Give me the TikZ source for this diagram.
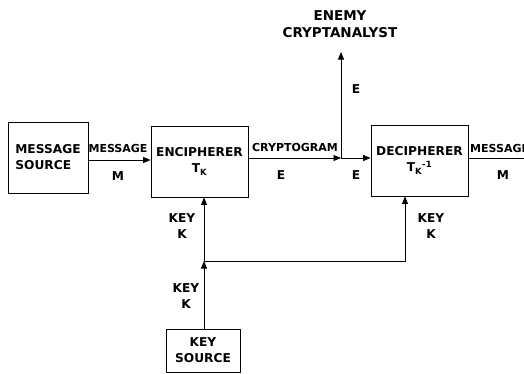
\documentclass[tikz,border=0pt]{standalone}
\usepackage{fontspec}
\setmainfont{DejaVu Sans}
\usetikzlibrary{arrows.meta}
\begin{document}
\begin{tikzpicture}[x=1pt,y=-1pt,
  every node/.style={font=\fontsize{12.2}{16}\selectfont\bfseries, inner sep=0pt},
  blk/.style={draw, line width=0.9pt, minimum height=71pt},
  small/.style={font=\fontsize{11}{15}\selectfont\bfseries},
  lbl/.style={align=center},
  conn/.style={line width=0.8pt},
  arr/.style={conn, -{Triangle[length=7.5pt,width=6pt]}}]
\useasboundingbox (0,0) rectangle (524,373);
\clip (0,0) rectangle (524,373);
% blocks
\node[blk, minimum width=80pt, align=left] (msrc) at (48,157.5) {MESSAGE\\SOURCE};
\node[blk, minimum width=97pt, align=center] (enc) at (199.5,161.5) {ENCIPHERER\\T\textsubscript{K}};
\node[blk, minimum width=97pt, align=center] (dec) at (419.5,160.5) {DECIPHERER\\T\textsubscript{K}\textsuperscript{-1}};
\node[draw, line width=0.9pt, minimum width=74pt, minimum height=43pt, align=center] (ksrc) at (203,350.5) {KEY\\SOURCE};
\node[align=center, font=\fontsize{13.5}{17}\selectfont\bfseries] (enemy) at (340,24) {ENEMY\\CRYPTANALYST};
% junctions
\coordinate (cj) at (341,158);
\coordinate (ctop) at (341,52);
\coordinate (kj) at (204,261);
\coordinate (kr) at (405,261);
\coordinate (out) at (530,158);
% connectors
\draw[arr] (msrc.east |- 0,160) -- (enc.west |- 0,160);
\draw[arr] (enc.east |- cj) -- (cj);
\draw[arr] (cj) -- (dec.west |- cj);
\draw[arr] (cj) -- (ctop);
\draw[conn] (dec.east |- cj) -- (out);
\draw[arr] (ksrc.north -| kj) -- (kj);
\draw[arr] (kj) -- (enc.south -| kj);
\draw[arr] (kj) -- (kr) -- (dec.south -| kr);
% labels
\node[small] at (118,148) {MESSAGE};
\node at (118,176) {M};
\node[small] at (295,147) {CRYPTOGRAM};
\node at (281,175) {E};
\node at (356,89) {E};
\node at (356,175) {E};
\node[small, anchor=west] at (470,148) {MESSAGE};
\node at (503,175) {M};
\node[lbl] at (182,226) {KEY\\K};
\node[lbl] at (431,226) {KEY\\K};
\node[lbl] at (186,296) {KEY\\K};
\end{tikzpicture}
\end{document}
